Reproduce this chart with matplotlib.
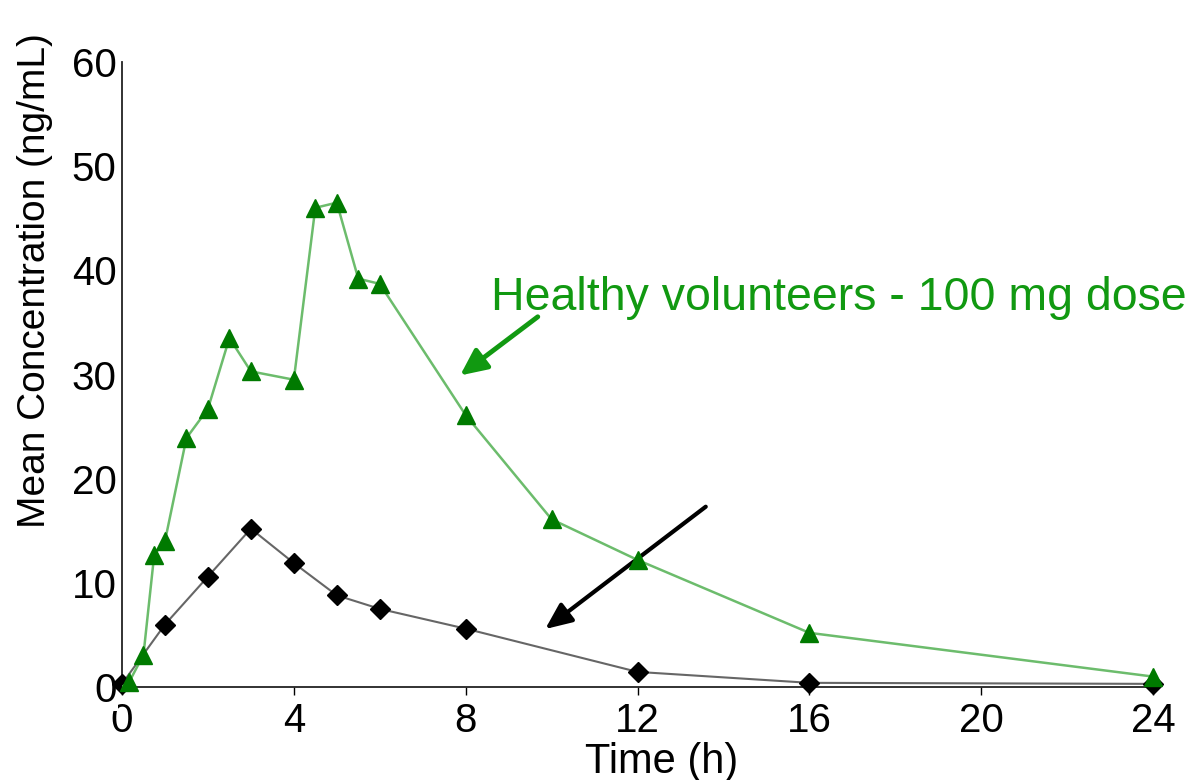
import matplotlib
matplotlib.use("Agg")
import matplotlib.pyplot as plt

plt.rcParams['font.family'] = ['Liberation Sans', 'DejaVu Sans']

# Healthy volunteers - 100 mg dose (green triangles)
t_green = [0.0, 0.17, 0.5, 0.75, 1.0, 1.5, 2.0, 2.5, 3.0, 4.0, 4.5, 5.0, 5.5, 6.0, 8.0, 10.0, 12.0, 16.0, 24.0]
c_green = [0.0, 0.5, 3.1, 12.7, 14.0, 23.9, 26.7, 33.5, 30.3, 29.5, 46.0, 46.5, 39.2, 38.7, 26.1, 16.1, 12.2, 5.2, 1.0]

# Second group (black diamonds)
t_black = [0.0, 1.0, 2.0, 3.0, 4.0, 5.0, 6.0, 8.0, 12.0, 16.0, 24.0]
c_black = [0.3, 6.0, 10.6, 15.2, 11.9, 8.8, 7.5, 5.6, 1.45, 0.4, 0.3]

x_ticks = [0, 4, 8, 12, 16, 20, 24]
y_ticks = [0, 10, 20, 30, 40, 50, 60]

fig = plt.figure(figsize=(11.98, 7.80), dpi=100)
ax = fig.add_axes([122/1198, 93/780, (1153-122)/1198, (687-62)/780])
ax.set_xlim(0, 24)
ax.set_ylim(0, 60)

ax.plot(t_black, c_black, color='#666666', lw=1.5, zorder=2)
ax.plot(t_black, c_black, ls='none', marker='D', ms=10, color='black', zorder=3, clip_on=False)

ax.plot(t_green, c_green, color='#6cbc6c', lw=1.8, zorder=4)
ax.plot(t_green[1:], c_green[1:], ls='none', marker='^', ms=13, color='#007a00', zorder=5, clip_on=False)

for s in ['top', 'right']:
    ax.spines[s].set_visible(False)
ax.spines['left'].set_color('#222222')
ax.spines['bottom'].set_color('#222222')
ax.spines['left'].set_linewidth(1.3)
ax.spines['bottom'].set_linewidth(1.3)

ax.set_xticks(x_ticks)
ax.set_yticks(y_ticks)
ax.tick_params(axis='y', length=0, pad=4, labelsize=29)
ax.tick_params(axis='x', length=6, width=1, direction='out', pad=5, labelsize=29)
for lab in ax.get_yticklabels():
    lab.set_bbox(dict(facecolor='white', edgecolor='none', pad=1))
    lab.set_zorder(10)
for lab in ax.get_xticklabels():
    lab.set_bbox(dict(facecolor='white', edgecolor='none', pad=0))
    lab.set_zorder(11)

ax.set_xlabel('Time (h)', fontsize=30)
ax.xaxis.label.set_va('center')
ax.xaxis.set_label_coords(0.523, -0.12)
ax.set_ylabel('Mean Concentration (ng/mL)', fontsize=28)
ax.yaxis.label.set_va('center')
ax.yaxis.set_label_coords(-0.084, 0.651)

ax.text(8.6, 36.2, 'Healthy volunteers - 100 mg dose', color='#119911', fontsize=33.5,
        ha='left', va='baseline')
ax.annotate('', xy=(7.82, 29.75), xytext=(9.73, 35.7),
            arrowprops=dict(arrowstyle='-|>,head_length=1.6,head_width=0.75', color='#119911', lw=3.5))
ax.annotate('', xy=(9.8, 5.4), xytext=(13.64, 17.47),
            arrowprops=dict(arrowstyle='-|>,head_length=1.6,head_width=0.7', color='black', lw=3))

fig.savefig('out.png', dpi=100, facecolor='white')
